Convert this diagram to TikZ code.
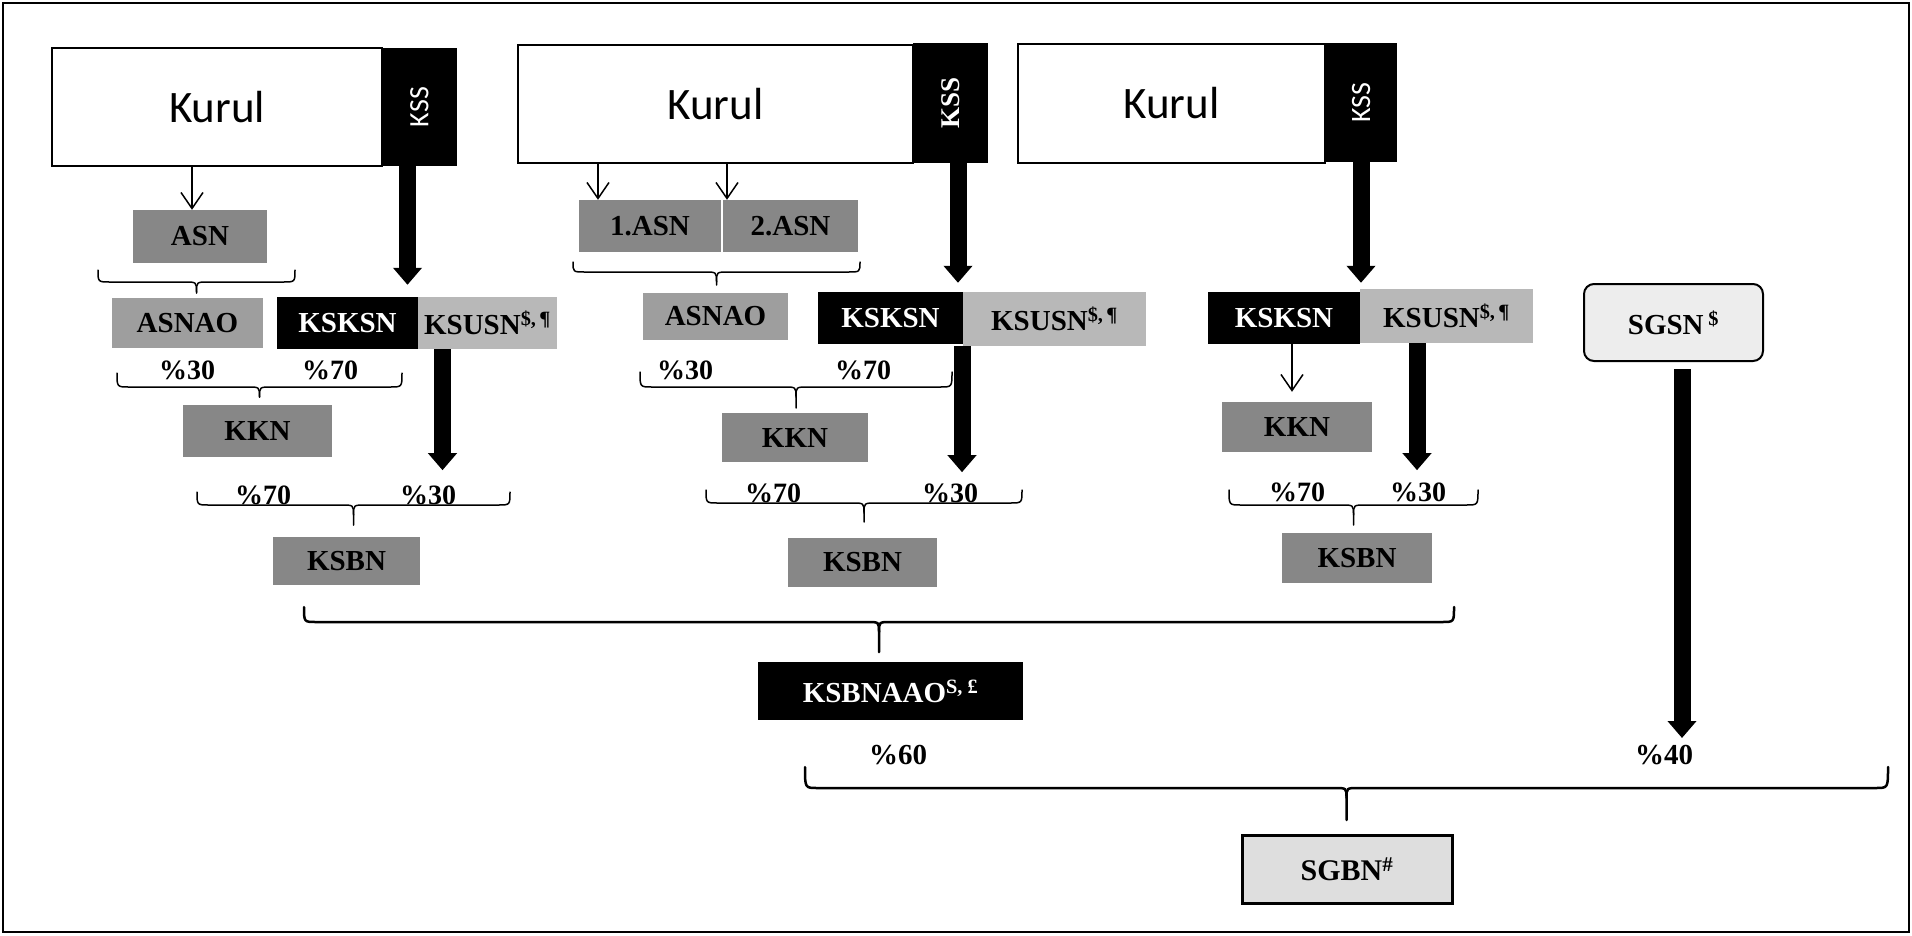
\documentclass[tikz,border=0pt]{standalone}
\usepackage{fontspec}
\setmainfont{Liberation Serif}
\newfontfamily\kfont{Carlito}
\usetikzlibrary{arrows.meta,calc}
\newcommand\bracedown[6][]{%
  \draw[bracestyle,#1] (#2,#4) .. controls (#2,#5) .. ({#2+12},#5) -- ({(#2+#3)/2-12},#5) .. controls ({(#2+#3)/2},#5) .. ({(#2+#3)/2},{#5+10}) -- ({(#2+#3)/2},#6);
  \draw[bracestyle,#1] (#3,#4) .. controls (#3,#5) .. ({#3-12},#5) -- ({(#2+#3)/2+12},#5) .. controls ({(#2+#3)/2},#5) .. ({(#2+#3)/2},{#5+10});
}
\begin{document}
\begin{tikzpicture}[x=1pt,y=-1pt,
 kurul/.style={draw=black,line width=1.5pt,fill=white,inner sep=0pt,font=\kfont\fontsize{45}{50}\selectfont},
 kssbox/.style={fill=black,text=white,inner sep=0pt,font=\kfont\fontsize{28}{30}\selectfont},
 kssserif/.style={fill=black,text=white,inner sep=0pt,font=\bfseries\fontsize{27}{30}\selectfont},
 gbox/.style={fill=black!47,inner sep=0pt,font=\bfseries\fontsize{29}{30}\selectfont},
 lbox/.style={gbox,fill=black!38},
 ubox/.style={gbox,fill=black!28},
 bbox/.style={fill=black,text=white,inner sep=0pt,font=\bfseries\fontsize{29}{30}\selectfont},
 pct/.style={inner sep=0pt,font=\bfseries\fontsize{28}{30}\selectfont},
 bigpct/.style={inner sep=0pt,font=\bfseries\fontsize{29}{30}\selectfont},
 thinarr/.style={line width=1.5pt,-{Straight Barb[length=16pt,width=22pt]}},
 thickarr/.style={line width=17pt,-{Triangle[length=17pt,width=28pt]}},
 bracestyle/.style={line width=1.5pt,line cap=round},
]
\useasboundingbox (0,0) rectangle (1912,935);
\draw[line width=2.5pt] (3,3) rectangle (1909,932);

% ---------- group 1 ----------
\node[kssbox,minimum width=75pt,minimum height=118pt] (S1) at (419.5,107) {\rotatebox{90}{KSS}};
\node[kurul,minimum width=330pt,minimum height=118pt] (K1) at (217,107) {Kurul};
\node[gbox,minimum width=134pt,minimum height=53pt] (A1) at (200,236.5) {ASN};
\node[lbox,minimum width=151pt,minimum height=50pt] (AO1) at (187.5,323) {ASNAO};
\node[bbox,minimum width=141pt,minimum height=52pt] (KS1) at (347.5,323) {KSKSN};
\node[ubox,minimum width=139pt,minimum height=52pt] (KU1) at (487.5,323) {KSUSN\textsuperscript{\$,\,¶}};
\node[gbox,minimum width=149pt,minimum height=52pt] (KK1) at (257.5,431) {KKN};
\node[gbox,minimum width=147pt,minimum height=48pt] (KB1) at (346.5,561) {KSBN};
\node[pct] (p11) at (187,370) {\%30};
\node[pct] (p12) at (330,370) {\%70};
\node[pct] (p13) at (263,495) {\%70};
\node[pct] (p14) at (428,495) {\%30};
\draw[thinarr] ($(A1.north |- K1.south)+(-8,0)$) -- ($(A1.north)+(-8,0)$);
\draw[thickarr,shorten >=12pt] ($(S1.south)+(-12,0)$) -- ($(S1.south |- KS1.north)+(-12,0)$);
\draw[thickarr] ($(KU1.south)+(-45,0)$) -- ++(0,121);
\bracedown{98}{295}{270}{282}{293}
\bracedown{117}{402}{373}{387}{397}
\bracedown{197}{510}{492}{505}{525}

% ---------- group 2 ----------
\node[kssserif,minimum width=75pt,minimum height=120pt] (S2) at (950.5,103) {\rotatebox{90}{KSS}};
\node[kurul,minimum width=395pt,minimum height=118pt] (K2) at (715.5,104) {Kurul};
\node[gbox,minimum width=142pt,minimum height=52pt] (A21) at (650,226) {1.ASN};
\node[gbox,minimum width=135pt,minimum height=52pt] (A22) at (790.5,226) {2.ASN};
\node[lbox,minimum width=145pt,minimum height=47pt] (AO2) at (715.5,316.5) {ASNAO};
\node[bbox,minimum width=145pt,minimum height=52pt] (KS2) at (890.5,318) {KSKSN};
\node[ubox,minimum width=183pt,minimum height=54pt] (KU2) at (1054.5,319) {KSUSN\textsuperscript{\$,\,¶}};
\node[gbox,minimum width=146pt,minimum height=49pt] (KK2) at (795,437.5) {KKN};
\node[gbox,minimum width=149pt,minimum height=49pt] (KB2) at (862.5,562.5) {KSBN};
\node[pct] (p21) at (685,370) {\%30};
\node[pct] (p22) at (863,370) {\%70};
\node[pct] (p23) at (773,493) {\%70};
\node[pct] (p24) at (950,493) {\%30};
\draw[thinarr] ($(A21.north |- K2.south)+(-52,0)$) -- ($(A21.north)+(-52,0)$);
\draw[thinarr] ($(A22.north |- K2.south)+(-63.5,0)$) -- ($(A22.north)+(-63.5,0)$);
\draw[thickarr,shorten >=9pt] ($(S2.south)+(7.5,0)$) -- ($(S2.south |- KS2.north)+(7.5,0)$);
\draw[thickarr] ($(KU2.south)+(-92.5,0)$) -- ++(0,126);
\bracedown{573}{860}{262}{272}{285}
\bracedown{640}{952}{372}{387}{408}
\bracedown{706}{1022}{490}{503}{522}

% ---------- group 3 ----------
\node[kssbox,minimum width=72pt,minimum height=119pt] (S3) at (1361,102.5) {\rotatebox{90}{KSS}};
\node[kurul,minimum width=307pt,minimum height=119pt] (K3) at (1171.5,103.5) {Kurul};
\node[bbox,minimum width=152pt,minimum height=52pt] (KS3) at (1284,318) {KSKSN};
\node[ubox,minimum width=173pt,minimum height=54pt] (KU3) at (1446.5,316) {KSUSN\textsuperscript{\$,\,¶}};
\node[gbox,minimum width=150pt,minimum height=50pt] (KK3) at (1297,427) {KKN};
\node[gbox,minimum width=150pt,minimum height=50pt] (KB3) at (1357,558) {KSBN};
\node[pct] (p31) at (1297,492) {\%70};
\node[pct] (p32) at (1418,492) {\%30};
\draw[thickarr,shorten >=9pt] (S3.south) -- (S3.south |- KS3.north);
\draw[thinarr,shorten >=10pt] ($(KS3.south)+(8,0)$) -- ($(KS3.south |- KK3.north)+(8,0)$);
\draw[thickarr] ($(KU3.south)+(-29.5,0)$) -- ++(0,127);
\bracedown{1229}{1478}{490}{505}{525}

% ---------- SGSN ----------
\node[draw=black,line width=2pt,rounded corners=10pt,fill=black!7,inner sep=0pt,minimum width=179pt,minimum height=77pt,font=\bfseries\fontsize{29}{30}\selectfont] (SG) at (1673.5,322.5) {SGSN\,\textsuperscript{\$}};
\draw[thickarr,shorten <=7pt] ($(SG.south)+(8.5,0)$) -- ++(0,376);

% ---------- bottom ----------
\bracedown[line width=2.5pt]{304}{1454}{607}{622}{652}
\node[bbox,minimum width=265pt,minimum height=58pt] (KA) at (890.5,691) {KSBNAAO\textsuperscript{S, £}};
\node[bigpct] (p60) at (898,755) {\%60};
\node[bigpct] (p40) at (1664,755) {\%40};
\bracedown[line width=2.5pt]{805}{1888}{767}{788}{820}
\node[draw=black,line width=3pt,fill=black!13,inner sep=0pt,minimum width=210pt,minimum height=68pt,font=\bfseries\fontsize{30}{32}\selectfont] (SB) at (1347,869) {SGBN\textsuperscript{\#}};
\end{tikzpicture}
\end{document}
